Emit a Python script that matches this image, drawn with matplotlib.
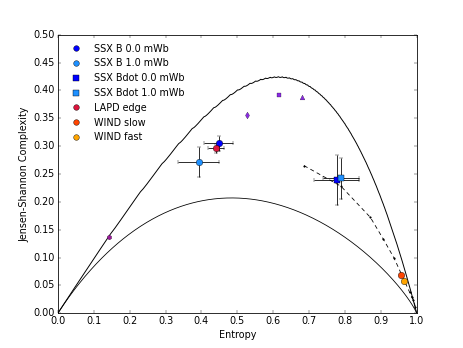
import numpy as np
import matplotlib
matplotlib.use('Agg')
import matplotlib.pyplot as plt
from matplotlib.lines import Line2D

plt.style.use('classic')

# permutation entropy boundaries, embedding dimension 5 -> N = 5! states
n_states = 120

# measured data (entropy, complexity, xerr, yerr)
ssx_b0 = (0.448, 0.305, 0.040, 0.013)
ssx_b1 = (0.392, 0.272, 0.058, 0.027)
ssx_bdot0 = (0.777, 0.239, 0.063, 0.045)
ssx_bdot1 = (0.788, 0.242, 0.050, 0.037)
lapd_edge = (0.441, 0.296, 0.0215, 0.008)
wind_slow = (0.957, 0.0695)
wind_fast = (0.965, 0.057)

# chaotic maps (no legend)
map_h = [0.1415, 0.527, 0.616, 0.679]
map_c = [0.136, 0.356, 0.392, 0.3875]
map_markers = ['h', 'd', 's', '^']
map_colors = ['#9a1a9a', '#8a2be2', '#8a2be2', '#8a2be2']

# noise curve
noise_h = [0.686, 0.789, 0.871, 0.907, 0.937, 0.980, 0.986, 0.991, 0.996]
noise_c = [0.265, 0.228, 0.172, 0.133, 0.099, 0.038, 0.029, 0.024, 0.012]


def shannon(p):
    p = p[p > 0]
    return -np.sum(p * np.log(p))


def hc_point(p, n):
    pe = np.ones(n) / n
    q0 = -2.0 / (((n + 1.0) / n) * np.log(n + 1) - 2 * np.log(2 * n) + np.log(n))
    s = shannon(p)
    js = shannon((p + pe) / 2) - s / 2 - np.log(n) / 2
    h = s / np.log(n)
    return h, q0 * js * h


def min_curve(n, npts=400):
    hs, cs = [], []
    for pm in np.linspace(1.0 / n, 1.0, npts):
        p = np.full(n, (1 - pm) / (n - 1))
        p[0] = pm
        h, c = hc_point(p, n)
        hs.append(h)
        cs.append(c)
    return np.array(hs), np.array(cs)


def max_curve(n, npts=40):
    # upper envelope of the families with k empty states
    grid = np.linspace(0, 1, 800)
    env = np.zeros_like(grid)
    for k in range(n - 1):
        m = n - k
        hs, cs = [], []
        for pm in np.linspace(0, 1.0 / m, npts):
            p = np.zeros(n)
            p[k] = pm
            p[k + 1:] = (1 - pm) / (m - 1)
            h, c = hc_point(p, n)
            hs.append(h)
            cs.append(c)
        hs, cs = np.array(hs), np.array(cs)
        inside = (grid >= hs.min()) & (grid <= hs.max())
        env[inside] = np.maximum(env[inside], np.interp(grid[inside], hs, cs))
    return grid, env


fig = plt.figure(figsize=(463 / 58.0, 6), dpi=58)
ax = fig.add_subplot(111)

hmin, cmin = min_curve(n_states)
hmax, cmax = max_curve(n_states)
ax.plot(hmin, cmin, 'k', lw=1)
ax.plot(hmax, cmax, 'k', lw=1.2)

ax.plot(noise_h, noise_c, 'k--', marker='.', markersize=4, lw=1, dashes=(5, 4))

for h, c, m, col in zip(map_h, map_c, map_markers, map_colors):
    ax.plot(h, c, marker=m, color=col, markersize=6, mec='k', mew=0.3, ls='none')


def errpoint(d, fmt, col):
    ax.errorbar(d[0], d[1], xerr=d[2], yerr=d[3], fmt=fmt, color=col, ecolor='k',
                elinewidth=1, capsize=3, markersize=8, mec='k', mew=0.5, zorder=3)


errpoint(ssx_b0, 'o', 'blue')
errpoint(ssx_b1, 'o', '#1e90ff')
errpoint(ssx_bdot0, 's', 'blue')
errpoint(ssx_bdot1, 's', '#1e90ff')
errpoint(lapd_edge, 'o', '#dc143c')
ax.plot(wind_slow[0], wind_slow[1], 'o', color='#ff4500', markersize=8, mec='k', mew=0.5)
ax.plot(wind_fast[0], wind_fast[1], 'o', color='#ffa500', markersize=8, mec='k', mew=0.5)

legend_items = [
    ('o', 'blue', 'SSX B 0.0 mWb'),
    ('o', '#1e90ff', 'SSX B 1.0 mWb'),
    ('s', 'blue', 'SSX Bdot 0.0 mWb'),
    ('s', '#1e90ff', 'SSX Bdot 1.0 mWb'),
    ('o', '#dc143c', 'LAPD edge'),
    ('o', '#ff4500', 'WIND slow'),
    ('o', '#ffa500', 'WIND fast'),
]
handles = [Line2D([], [], ls='none', marker=m, color=c, mec='k', mew=0.5, markersize=7)
           for m, c, _ in legend_items]
labels = [lab for _, _, lab in legend_items]

ax.set_xlim(0, 1)
ax.set_ylim(0, 0.5)
ax.set_xticks(np.arange(0, 1.01, 0.1))
ax.set_yticks(np.arange(0, 0.501, 0.05))
ax.set_xlabel('Entropy')
ax.set_ylabel('Jensen-Shannon Complexity')
ax.legend(handles, labels, loc='upper left', frameon=False, numpoints=1, fontsize=12)

fig.savefig('out.png', dpi=58)
